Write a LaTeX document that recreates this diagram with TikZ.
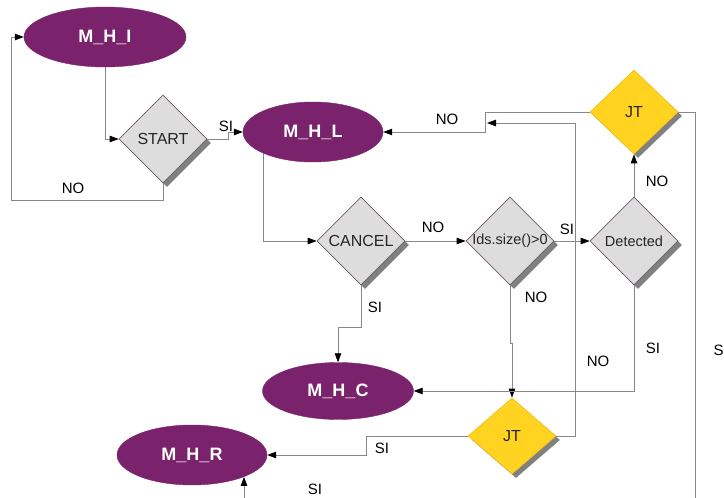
\documentclass[tikz,border=0pt]{standalone}
\usepackage{fontspec}
\setmainfont{Liberation Sans}
\usetikzlibrary{shapes.geometric,arrows.meta,shadows,backgrounds}

\definecolor{plum}{RGB}{122,34,108}
\definecolor{diagray}{RGB}{221,221,221}
\definecolor{diaedge}{RGB}{112,92,112}
\definecolor{gold}{RGB}{255,211,32}
\definecolor{goldedge}{RGB}{240,192,30}
\definecolor{wire}{RGB}{136,136,136}
\definecolor{shade}{RGB}{128,128,128}

\begin{document}
\begin{tikzpicture}[x=1pt,y=-1pt,
  state/.style={ellipse, fill=plum, draw=plum, inner sep=0pt,
    text=white, font=\fontsize{18}{20}\selectfont\bfseries},
  test/.style={diamond, fill=diagray, draw=diaedge, line width=0.7pt,
    inner sep=0pt, minimum width=88pt, minimum height=88pt,
    drop shadow={shadow xshift=4pt, shadow yshift=-4pt, fill=shade, opacity=1}},
  jtest/.style={test, fill=gold, draw=goldedge},
  qtext/.style={inner sep=0pt, text=black!85, font=\fontsize{16}{18}\selectfont},
  qsmall/.style={qtext, font=\fontsize{14.5}{16}\selectfont},
  lab/.style={inner sep=0pt, text=black, font=\fontsize{15}{17}\selectfont},
  wire/.style={draw=wire, line width=0.8pt,
    -{Triangle[length=9pt,width=6.5pt,color=black]}},
  plain/.style={draw=wire, line width=0.8pt}]

\useasboundingbox (0,0) rectangle (724,498);
\clip (0,0) rectangle (724,498);

% states
\node[state, minimum width=162pt, minimum height=60pt] (mhi) at (105,37) {M\_H\_I};
\node[state, minimum width=140pt, minimum height=60pt] (mhl) at (313,132) {M\_H\_L};
\node[state, minimum width=151pt, minimum height=57pt] (mhc) at (338,391) {M\_H\_C};
\node[state, minimum width=150pt, minimum height=60pt] (mhr) at (192,455) {M\_H\_R};

% decisions
\node[test] (start) at (163,139) {};
\node[qtext] (start-t) at (start) {START};
\node[test] (cancel) at (361,241) {};
\node[qtext] (cancel-t) at (cancel) {CANCEL};
\node[test] (ids) at (510,241) {};
\node[qsmall] (ids-t) at (ids) {Ids.size()>0};
\node[test] (det) at (634,241) {};
\node[qsmall] (det-t) at (det) {Detected};
\node[jtest, minimum height=84pt] (jt1) at (634,112) {};
\node[qtext] (jt1-t) at (jt1) {JT};
\node[jtest, minimum height=76pt] (jt2) at (512,436) {};
\node[qtext] (jt2-t) at (jt2) {JT};

% free ends of connectors
\coordinate (back) at (487,123);
\coordinate (exit) at (695,500);
\coordinate (entry) at (244,500);

% connectors
\begin{scope}[on background layer]
  \draw[wire] (mhi.south) |- (start.west);
  \draw[wire] (start.south) -- ++(0,17) -| ([xshift=-12pt]mhi.west) -- (mhi.west);
  \draw[wire] (start.east) -- ++(21,0) |- (mhl.west);
  \draw[wire] (jt1.west) -| ([xshift=102pt]mhl.east) -- (mhl.east);
  \draw[wire] (jt2.east) -- ++(19,0) |- (back);
  \draw[wire] ([xshift=-50pt]mhl.center) |- (cancel.west);
  \draw[wire] (cancel.east) -- (ids.west);
  \draw[wire] (ids.east) -- (det.west);
  \draw[wire] (det.north) -- (jt1.south);
  \draw[wire] (cancel.south) -- ++(0,42) -| (mhc.north);
  \draw[wire] (ids.south) -- ++(0,58) -| (jt2.north);
  \draw[wire] (det.south) |- (mhc.east);
  \draw[plain] (jt1.east) -| (exit);
  \draw[wire] (jt2.west) -- ++(-101,0) |- (mhr.east);
  \draw[wire] (entry) -- (entry |- mhr.337);
\end{scope}

% branch labels
\node[lab] (l-start-si) at (226,126) {SI};
\node[lab] (l-start-no) at (73,188) {NO};
\node[lab] (l-jt1-no) at (447,119) {NO};
\node[lab] (l-cancel-no) at (433,227) {NO};
\node[lab] (l-ids-si) at (567,229) {SI};
\node[lab] (l-det-no) at (657,181) {NO};
\node[lab] (l-cancel-si) at (375,307) {SI};
\node[lab] (l-ids-no) at (536,297) {NO};
\node[lab] (l-det-si) at (653,348) {SI};
\node[lab] (l-jt2-no) at (598,361) {NO};
\node[lab, anchor=west] (l-jt1-si) at (713.5,350) {SI};
\node[lab] (l-jt2-si) at (382,448) {SI};
\node[lab] (l-mhr-si) at (315,489) {SI};

\end{tikzpicture}
\end{document}
